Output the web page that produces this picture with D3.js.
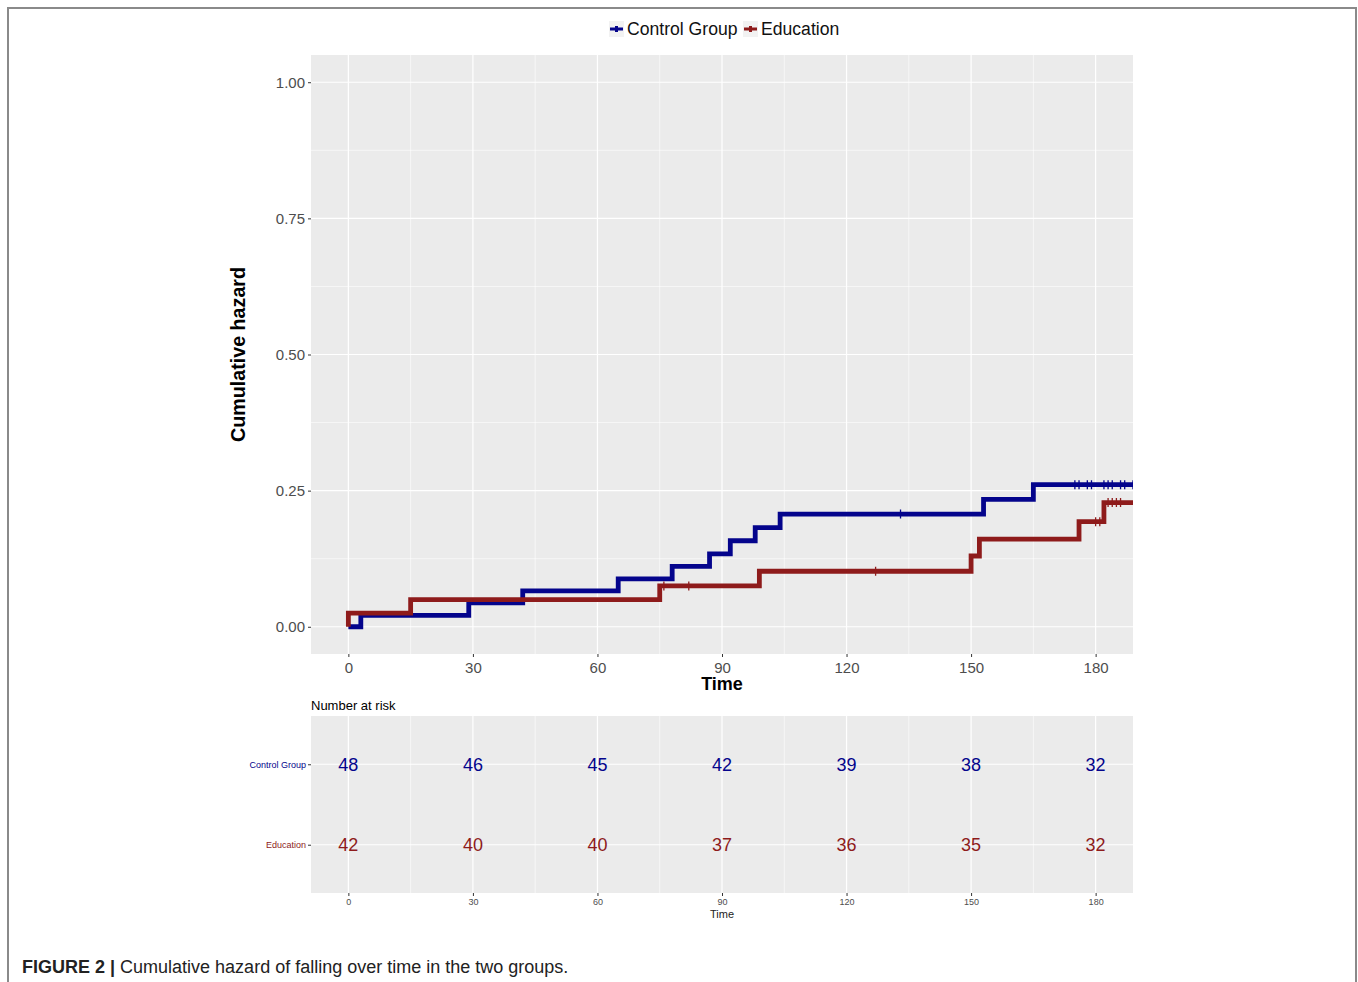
<!DOCTYPE html>
<html>
<head>
<meta charset="utf-8">
<script src="https://cdn.jsdelivr.net/npm/d3@7"></script>
<style>
	body { margin: 0; background: #fff; }
	text { font-family: "Liberation Sans", Arial, sans-serif; }
</style>
</head>
<body>
<div id="chart"></div>
<script>
// axis ticks
var timeTicks = [0, 30, 60, 90, 120, 150, 180];
var hazardTicks = [0, 0.25, 0.5, 0.75, 1];

// control group: event times and cumulative hazard after each event
var controlTimes = [3, 29, 42, 65, 78, 87, 92, 98, 104, 153, 165];
var controlHazard = [0.021, 0.044, 0.066, 0.088, 0.111, 0.134, 0.158, 0.182, 0.207, 0.234, 0.261];
var controlCensor = [133, 175, 176, 178, 179, 182, 183, 184, 186, 187, 189];

// education group
var educationTimes = [0, 15, 75, 99, 150, 152, 176, 182];
var educationHazard = [0.025, 0.050, 0.075, 0.102, 0.130, 0.161, 0.193, 0.228];
var educationCensor = [76, 82, 127, 180, 181, 183, 184, 185, 186];

// number at risk table
var groups = ["Control Group", "Education"];
var controlRisk = [48, 46, 45, 42, 39, 38, 32];
var educationRisk = [42, 40, 40, 37, 36, 35, 32];

var colors = {"Control Group": "#04048c", "Education": "#8e1b1b"};
var endTime = 189;

var W = 1358, H = 982;
var svg = d3.select("#chart").append("svg")
	.attr("width", W)
	.attr("height", H);

// figure frame
svg.append("path")
	.attr("d", "M8,982V8H1356V982")
	.attr("fill", "none")
	.attr("stroke", "#8a8a8a")
	.attr("stroke-width", 2);

var panel = {left: 311, right: 1133, top: 55, bottom: 654};
var riskPanel = {top: 716, bottom: 893};

var x = d3.scaleLinear().domain([-9, 189]).range([panel.left, panel.right]);
var y = d3.scaleLinear().domain([-0.05, 1.05]).range([panel.bottom, panel.top]);
var yRisk = d3.scalePoint().domain(groups).range([riskPanel.top, riskPanel.bottom]).padding(0.6);

var minorTime = d3.range(15, 180, 30);
var minorHazard = [0.125, 0.375, 0.625, 0.875];

svg.append("clipPath").attr("id", "clip")
	.append("rect")
	.attr("x", panel.left).attr("y", panel.top)
	.attr("width", panel.right - panel.left).attr("height", panel.bottom - panel.top);

// ---------- main panel ----------
var g = svg.append("g");
g.append("rect")
	.attr("x", panel.left).attr("y", panel.top)
	.attr("width", panel.right - panel.left).attr("height", panel.bottom - panel.top)
	.attr("fill", "#ebebeb");

g.selectAll(".minx").data(minorTime).enter().append("line")
	.attr("x1", function(d) { return x(d); }).attr("x2", function(d) { return x(d); })
	.attr("y1", panel.top).attr("y2", panel.bottom)
	.attr("stroke", "#fff").attr("stroke-width", 0.6);
g.selectAll(".miny").data(minorHazard).enter().append("line")
	.attr("y1", function(d) { return y(d); }).attr("y2", function(d) { return y(d); })
	.attr("x1", panel.left).attr("x2", panel.right)
	.attr("stroke", "#fff").attr("stroke-width", 0.6);
g.selectAll(".majx").data(timeTicks).enter().append("line")
	.attr("x1", function(d) { return x(d); }).attr("x2", function(d) { return x(d); })
	.attr("y1", panel.top).attr("y2", panel.bottom)
	.attr("stroke", "#fff").attr("stroke-width", 1.2);
g.selectAll(".majy").data(hazardTicks).enter().append("line")
	.attr("y1", function(d) { return y(d); }).attr("y2", function(d) { return y(d); })
	.attr("x1", panel.left).attr("x2", panel.right)
	.attr("stroke", "#fff").attr("stroke-width", 1.2);

// axes
var xAxis = g.append("g")
	.attr("transform", "translate(0," + panel.bottom + ")")
	.call(d3.axisBottom(x).tickValues(timeTicks).tickSize(3).tickPadding(5));
var yAxis = g.append("g")
	.attr("transform", "translate(" + panel.left + ",0)")
	.call(d3.axisLeft(y).tickValues(hazardTicks).tickSize(3).tickPadding(3).tickFormat(d3.format(".2f")));
[xAxis, yAxis].forEach(function(a) {
	a.select(".domain").remove();
	a.selectAll("line").attr("stroke", "#333");
	a.selectAll("text").attr("fill", "#4d4d4d").style("font-size", "15px");
});

g.append("text")
	.attr("x", x(90)).attr("y", 690)
	.attr("text-anchor", "middle")
	.style("font-size", "18px").style("font-weight", "bold")
	.text("Time");
g.append("text")
	.attr("transform", "translate(245," + y(0.5) + ") rotate(-90)")
	.attr("text-anchor", "middle")
	.style("font-size", "19.7px").style("font-weight", "bold")
	.text("Cumulative hazard");

// step curves
function stepPoints(times, hazard) {
	var pts = [[0, 0]];
	var h = 0;
	times.forEach(function(t, i) {
		pts.push([t, h]);
		h = hazard[i];
		pts.push([t, h]);
	});
	pts.push([endTime, h]);
	return pts;
}
function hazardAt(times, hazard, t) {
	var h = 0;
	times.forEach(function(tt, i) { if (tt <= t) h = hazard[i]; });
	return h;
}
var line = d3.line()
	.x(function(d) { return x(d[0]); })
	.y(function(d) { return y(d[1]); });

var curves = [
	{name: "Control Group", times: controlTimes, hazard: controlHazard, censor: controlCensor},
	{name: "Education", times: educationTimes, hazard: educationHazard, censor: educationCensor}
];

var plot = g.append("g").attr("clip-path", "url(#clip)");
curves.forEach(function(c) {
	plot.append("path")
		.datum(stepPoints(c.times, c.hazard))
		.attr("d", line)
		.attr("fill", "none")
		.attr("stroke", colors[c.name])
		.attr("stroke-width", 4.8)
		.attr("stroke-linejoin", "miter");
	plot.selectAll(null).data(c.censor).enter().append("path")
		.attr("transform", function(t) {
			return "translate(" + x(t) + "," + y(hazardAt(c.times, c.hazard, t)) + ")";
		})
		.attr("d", "M0,-4.5V4.5M-4,0H4")
		.attr("stroke", colors[c.name])
		.attr("stroke-width", 1.3);
});

// legend
var legend = svg.append("g");
var legendItems = [
	{name: "Control Group", x: 610},
	{name: "Education", x: 744}
];
legendItems.forEach(function(d) {
	legend.append("rect")
		.attr("x", d.x - 1).attr("y", 21)
		.attr("width", 15).attr("height", 16)
		.attr("fill", "#f2f2f2");
	legend.append("path")
		.attr("d", "M" + d.x + ",29H" + (d.x + 13) + "M" + (d.x + 6.5) + ",26V32")
		.attr("stroke", colors[d.name])
		.attr("stroke-width", 3);
	legend.append("text")
		.attr("x", d.x + 17).attr("y", 35)
		.style("font-size", "17.6px")
		.attr("fill", "#111")
		.text(d.name);
});

// ---------- number at risk ----------
var r = svg.append("g");
r.append("text")
	.attr("x", panel.left).attr("y", 710)
	.style("font-size", "13px")
	.text("Number at risk");
r.append("rect")
	.attr("x", panel.left).attr("y", riskPanel.top)
	.attr("width", panel.right - panel.left).attr("height", riskPanel.bottom - riskPanel.top)
	.attr("fill", "#ebebeb");
r.selectAll(".minx").data(minorTime).enter().append("line")
	.attr("x1", function(d) { return x(d); }).attr("x2", function(d) { return x(d); })
	.attr("y1", riskPanel.top).attr("y2", riskPanel.bottom)
	.attr("stroke", "#fff").attr("stroke-width", 0.6);
r.selectAll(".majx").data(timeTicks).enter().append("line")
	.attr("x1", function(d) { return x(d); }).attr("x2", function(d) { return x(d); })
	.attr("y1", riskPanel.top).attr("y2", riskPanel.bottom)
	.attr("stroke", "#fff").attr("stroke-width", 1.2);
r.selectAll(".majy").data(groups).enter().append("line")
	.attr("y1", function(d) { return yRisk(d); }).attr("y2", function(d) { return yRisk(d); })
	.attr("x1", panel.left).attr("x2", panel.right)
	.attr("stroke", "#fff").attr("stroke-width", 1.2);

var rxAxis = r.append("g")
	.attr("transform", "translate(0," + riskPanel.bottom + ")")
	.call(d3.axisBottom(x).tickValues(timeTicks).tickSize(3).tickPadding(3));
var ryAxis = r.append("g")
	.attr("transform", "translate(" + panel.left + ",0)")
	.call(d3.axisLeft(yRisk).tickSize(3).tickPadding(2));
[rxAxis, ryAxis].forEach(function(a) {
	a.select(".domain").remove();
	a.selectAll("line").attr("stroke", "#333");
});
rxAxis.selectAll("text").attr("fill", "#4d4d4d").style("font-size", "9px");
ryAxis.selectAll("text")
	.attr("fill", function(d) { return colors[d]; })
	.style("font-size", "9px");
r.append("text")
	.attr("x", x(90)).attr("y", 918)
	.attr("text-anchor", "middle")
	.style("font-size", "11px")
	.attr("fill", "#222")
	.text("Time");

var riskRows = [
	{name: "Control Group", values: controlRisk},
	{name: "Education", values: educationRisk}
];
riskRows.forEach(function(row) {
	r.selectAll(null).data(row.values).enter().append("text")
		.attr("x", function(v, i) { return x(timeTicks[i]); })
		.attr("y", yRisk(row.name))
		.attr("dy", "0.36em")
		.attr("text-anchor", "middle")
		.attr("fill", colors[row.name])
		.style("font-size", "18px")
		.text(function(v) { return v; });
});

// caption
var cap = svg.append("text")
	.attr("x", 22).attr("y", 973)
	.style("font-size", "18px")
	.attr("fill", "#222");
cap.append("tspan").style("font-weight", "bold").text("FIGURE 2 |");
cap.append("tspan").text(" Cumulative hazard of falling over time in the two groups.");
</script>
</body>
</html>
